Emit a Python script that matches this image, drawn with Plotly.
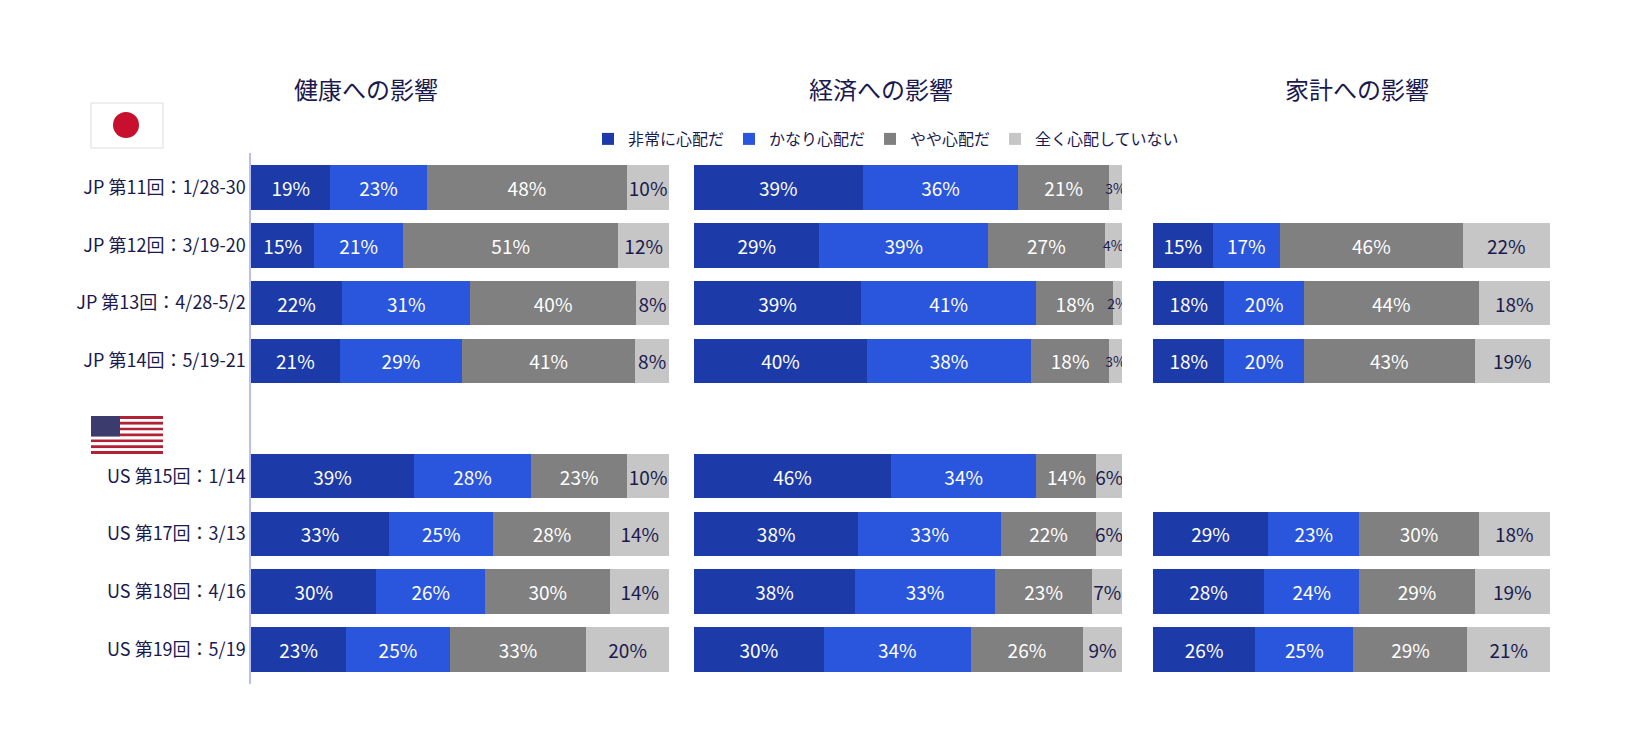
import plotly.graph_objects as go

rows = ["JP 第11回：1/28-30", "JP 第12回：3/19-20", "JP 第13回：4/28-5/2", "JP 第14回：5/19-21",
        "", "US 第15回：1/14", "US 第17回：3/13", "US 第18回：4/16", "US 第19回：5/19"]
series = ["非常に心配だ", "かなり心配だ", "やや心配だ", "全く心配していない"]
colors = ["#1c3ba8", "#2a56de", "#808080", "#c6c6c6"]
text_colors = ["white", "white", "white", "#1a1a4e"]

health = [[19, 23, 48, 10], [15, 21, 51, 12], [22, 31, 40, 8], [21, 29, 41, 8], None,
          [39, 28, 23, 10], [33, 25, 28, 14], [30, 26, 30, 14], [23, 25, 33, 20]]
economy = [[39, 36, 21, 3], [29, 39, 27, 4], [39, 41, 18, 2], [40, 38, 18, 3], None,
           [46, 34, 14, 6], [38, 33, 22, 6], [38, 33, 23, 7], [30, 34, 26, 9]]
household = [None, [15, 17, 46, 22], [18, 20, 44, 18], [18, 20, 43, 19], None,
             None, [29, 23, 30, 18], [28, 24, 29, 19], [26, 25, 29, 21]]
panels = [("健康への影響", health), ("経済への影響", economy), ("家計への影響", household)]

W, H = 1634, 742
ML, MR, MT, MB = 243, 92, 145, 66
PW, PH = W - ML - MR, H - MT - MB
FONT = "Noto Sans CJK JP"


def px(x):
    return (x - ML) / PW


def py(y):
    return (H - MB - y) / PH


domains = [[0, px(661)], [px(686), px(1114)], [px(1145), 1.0]]
title_x = [358, 873, 1349]
ypos = list(range(len(rows)))

fig = go.Figure()
for p, (title, data) in enumerate(panels):
    ax = "" if p == 0 else str(p + 1)
    for s in range(4):
        vals = [d[s] if d else None for d in data]
        fig.add_trace(go.Bar(
            x=vals, y=ypos, orientation="h", name=series[s],
            marker=dict(color=colors[s], line=dict(width=0)),
            text=[f"{v}%" if v is not None else "" for v in vals],
            textposition="inside", insidetextanchor="middle", constraintext="none",
            textangle=0,
            textfont=dict(color=text_colors[s], family=FONT,
                          size=[14 if (v is not None and v < 5) else 19 for v in vals]),
            width=0.77, showlegend=(p == 0), hoverinfo="skip",
            xaxis="x" + ax, yaxis="y" + ax))
    fig.add_annotation(text=title, x=px(title_x[p]), y=py(80), xanchor="center", yanchor="middle",
                       xref="paper", yref="paper", showarrow=False,
                       font=dict(size=24, color="#1a1a4e", family=FONT))

layout = dict(barmode="stack", barnorm="percent", width=W, height=H,
              margin=dict(l=ML, r=MR, t=MT, b=MB, autoexpand=False),
              plot_bgcolor="white", paper_bgcolor="white",
              font=dict(family=FONT, color="#1a1a4e"),
              legend=dict(orientation="h", x=px(580), y=py(131), xanchor="left", yanchor="middle",
                          font=dict(size=16, color="#1a1a4e"), traceorder="normal"))
for p in range(3):
    ax = "" if p == 0 else str(p + 1)
    layout["xaxis" + ax] = dict(domain=domains[p], range=[0, 100], visible=False,
                                anchor="y" + ax)
    layout["yaxis" + ax] = dict(range=[8.6, -0.6], anchor="x" + ax, showgrid=False,
                                zeroline=False, tickvals=ypos,
                                ticktext=rows if p == 0 else [""] * len(rows),
                                showticklabels=(p == 0), showline=(p == 0),
                                linecolor="#b8c0ee", linewidth=1.5,
                                tickfont=dict(size=18, color="#1a1a4e"), ticklen=0)
fig.update_layout(**layout)

shapes = []
# Japanese flag
shapes.append(dict(type="rect", xref="paper", yref="paper", x0=px(83), x1=px(155),
                   y0=py(140), y1=py(95), fillcolor="white", line=dict(color="#dddddd", width=1)))
shapes.append(dict(type="circle", xref="paper", yref="paper", x0=px(105), x1=px(131),
                   y0=py(130), y1=py(104), fillcolor="#c8102e", line=dict(width=0)))
# US flag
top, bot = 408, 446
h = (bot - top) / 13
for i in range(13):
    shapes.append(dict(type="rect", xref="paper", yref="paper", x0=px(83), x1=px(155),
                       y0=py(top + (i + 1) * h), y1=py(top + i * h),
                       fillcolor="#b22234" if i % 2 == 0 else "white", line=dict(width=0)))
shapes.append(dict(type="rect", xref="paper", yref="paper", x0=px(83), x1=px(112),
                   y0=py(top + 7 * h), y1=py(top), fillcolor="#3c3b6e", line=dict(width=0)))
fig.update_layout(shapes=shapes)

fig.write_html("out.html")
